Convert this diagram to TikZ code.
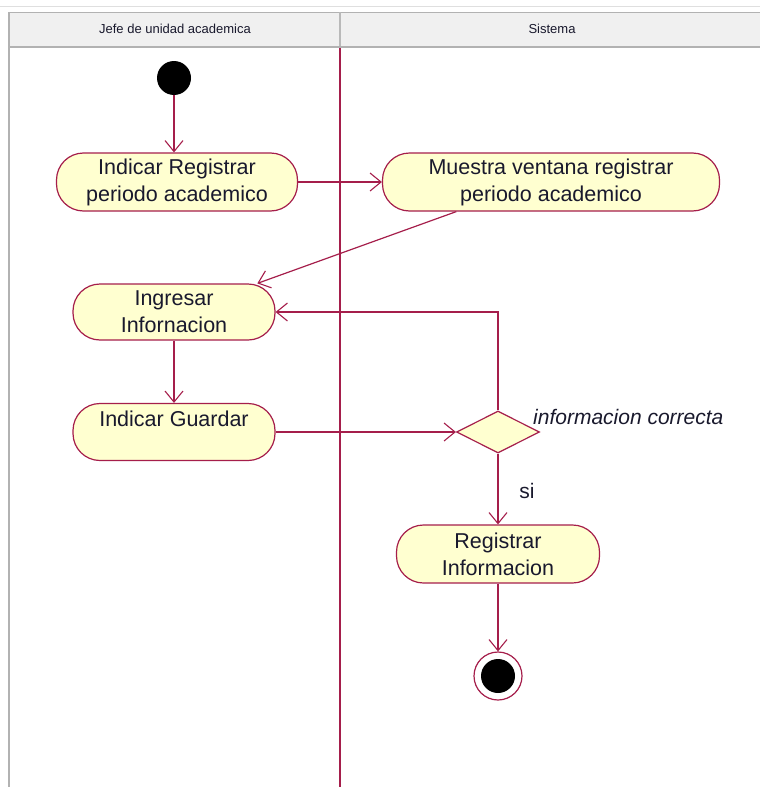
\documentclass[tikz,border=0pt]{standalone}
\usepackage{fontspec}
\setmainfont{Liberation Sans}
\usetikzlibrary{shapes.geometric,arrows.meta,calc}
\definecolor{lc}{RGB}{165,30,75}
\definecolor{fy}{RGB}{255,255,208}
\definecolor{tx}{RGB}{25,25,45}
\definecolor{hd}{RGB}{240,240,240}
\tikzset{
  act/.style={draw=lc, fill=fy, line width=1.2pt, rounded corners=27pt, minimum height=58pt,
    align=center, inner sep=0pt, text=tx, font=\fontsize{21.5}{27}\selectfont},
  flow/.style={draw=lc, line width=1.2pt, -{Straight Barb[length=11pt,width=18pt,line width=1.1pt]}},
  hdtext/.style={text=tx, font=\fontsize{13}{15}\selectfont},
  lbl/.style={text=tx, font=\fontsize{21}{24}\selectfont, inner sep=0pt}
}
\begin{document}
\begin{tikzpicture}[x=1pt,y=-1pt]
\useasboundingbox (0,0) rectangle (760,787);
% header
\fill[hd] (9,12) rectangle (760,46);
\draw[gray!25, line width=1pt] (0,6) -- (760,6);
\draw[gray!60, line width=1pt] (9,12) -- (760,12);
\draw[gray!55, line width=1.5pt] (340,12) -- (340,46);
\draw[gray!60, line width=2.5pt] (9,47) -- (760,47);
\draw[gray!60, line width=2pt] (9,12) -- (9,787);
\node[hdtext] (h1) at (175,29) {Jefe de unidad academica};
\node[hdtext] (h2) at (552,29) {Sistema};
% lane divider
\draw[lc, line width=1.5pt] (340,48) -- (340,787);
% nodes
\node[circle, fill=black, minimum size=34pt, inner sep=0pt] (ini) at (174,78) {};
\node[act, minimum width=241pt] (a1) at (177,182) {Indicar Registrar\\periodo academico};
\node[act, minimum width=337pt] (a2) at (551,182) {Muestra ventana registrar\\periodo academico};
\node[act, minimum width=202pt, minimum height=56pt] (ing) at (174,312) {Ingresar\\Infornacion};
\node[act, minimum width=202pt, minimum height=57pt] (gua) at (174,432) {Indicar Guardar\\\mbox{}};
\node[diamond, draw=lc, fill=fy, line width=1.2pt, minimum width=83pt, minimum height=42pt, inner sep=0pt] (dec) at (498,432) {};
\node[lbl, anchor=west, font=\fontsize{21}{24}\selectfont\itshape] (cond) at (533,417) {informacion correcta};
\node[act, minimum width=203pt] (reg) at (498,554) {Registrar\\Informacion};
\node[circle, draw=lc, fill=white, line width=1.2pt, minimum size=48pt, inner sep=0pt] (fin) at (498,676) {};
\node[circle, fill=black, minimum size=34pt, inner sep=0pt] (finc) at (498,676) {};
\node[lbl] (si) at (527,491) {si};
% flows
\draw[flow] (ini) -- (ini |- a1.north);
\draw[flow] (a1.east) -- (a2.west);
\draw[flow] ($(a2.south west)!0.22!(a2.south east)$) -- ($(ing.north west)!0.91!(ing.north east)$);
\draw[flow] (ing.south) -- (gua.north);
\draw[flow] (gua.east) -- (dec.west);
\draw[flow] (dec.north) |- (ing.east);
\draw[flow] (dec.south) -- (reg.north);
\draw[flow] (reg.south) -- (fin.north);
\end{tikzpicture}
\end{document}
